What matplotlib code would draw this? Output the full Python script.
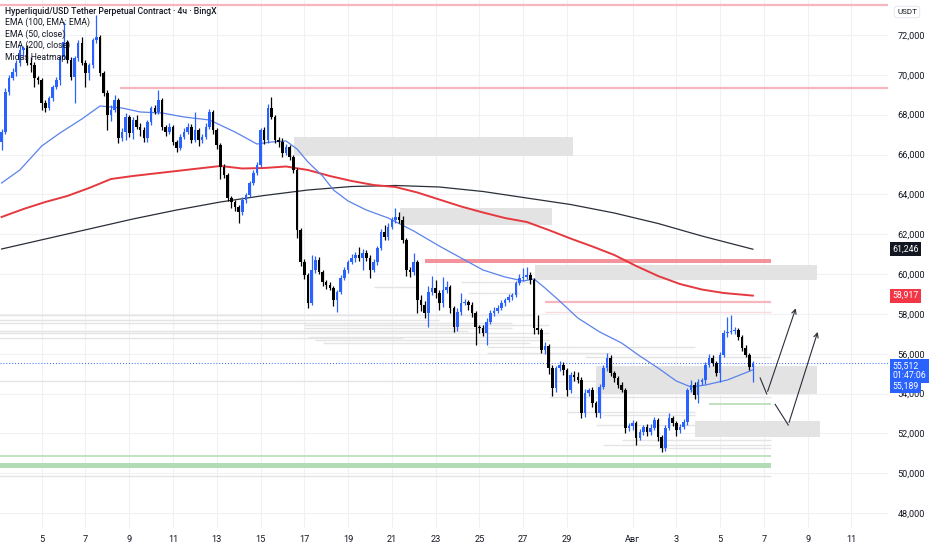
import matplotlib.pyplot as plt
import numpy as np

plt.rcParams['font.family'] = ['Roboto', 'DejaVu Sans']

# 4h candles, Jul 3 04:00 -> Aug 6 12:00 (index 0..206); open = previous close
first_open = 66630
closes = [
    67130, 69140, 69840, 70140, 70590,
    71250, 71350, 70590, 70490, 69840, 69740,
    68590, 68340, 68840, 69390, 69740, 70900,
    71650, 70750, 69890, 70850, 71600, 70590,
    70090, 70490, 71750, 71900, 70090, 69090,
    67980, 68240, 68740, 66830, 67130, 67880,
    67080, 67730, 67380, 67230, 66830, 67630,
    68340, 68140, 68740, 67380, 67130, 67380,
    66630, 66330, 66880, 67130, 67380, 66730,
    67230, 66730, 66880, 67380, 68140, 67230,
    66480, 65370, 64970, 63820, 63620, 63370,
    63110, 63720, 63970, 64570, 65070, 65470,
    67230, 66730, 68340, 67880, 66730, 66630,
    66080, 66380, 65880, 65220, 62210, 60600,
    59950, 58550, 60200, 60700, 60100, 59600,
    59450, 59300, 58700, 59100, 59800, 60200,
    60600, 60810, 60960, 60810, 61060, 60810,
    60200, 60600, 61310, 62110, 61860, 62360,
    62710, 62860, 62710, 61710, 60200, 60100,
    60600, 58700, 58450, 58040, 59100, 59300,
    59050, 58550, 59200, 59350, 58300, 57340,
    58090, 58550, 58600, 58450, 58040, 57340,
    57290, 57040, 57590, 58040, 58140, 58300,
    58550, 58700, 58850, 58950, 59550, 59800,
    59850, 59950, 59700, 57290, 57190, 56190,
    56390, 55280, 54280, 55280, 55430, 55180,
    54180, 54930, 54830, 54680, 53030, 54030,
    54180, 53530, 53030, 54330, 55280, 55790,
    55030, 54780, 54430, 54180, 52270, 52370,
    52520, 51770, 52070, 52320, 52070, 52270,
    52670, 51820, 51270, 52270, 52770, 52520,
    52170, 52320, 52570, 54180, 54430, 53930,
    54580, 54680, 55430, 55790, 55540, 55030,
    55940, 57040, 57090, 57140, 57190, 56840,
    56290, 55940, 55330, 55512,
]
wick_up = [
    150, 200, 150, 200, 150,
    250, 100, 150, 300, 150, 100,
    100, 150, 100, 100, 150, 100,
    1000, 100, 150, 100, 150, 300,
    150, 100, 100, 1100, 100, 100,
    150, 250, 250, 100, 200, 200,
    100, 150, 250, 200, 150, 100,
    100, 150, 500, 100, 100, 200,
    100, 100, 150, 200, 200, 150,
    900, 100, 150, 200, 150, 100,
    100, 100, 150, 100, 100, 100,
    100, 150, 100, 100, 150, 150,
    100, 150, 200, 550, 100, 150,
    200, 150, 100, 100, 100, 100,
    150, 100, 750, 200, 150, 100,
    100, 150, 100, 100, 150, 150,
    100, 200, 150, 400, 200, 150,
    150, 150, 100, 150, 350, 200,
    150, 450, 250, 200, 100, 150,
    450, 100, 250, 200, 300, 600,
    400, 150, 650, 300, 100, 100,
    200, 500, 150, 100, 150, 100,
    100, 150, 200, 150, 200, 150,
    150, 100, 150, 100, 100, 200,
    450, 400, 150, 100, 650, 100,
    200, 100, 150, 100, 200, 150,
    100, 150, 200, 250, 150, 200,
    100, 150, 100, 150, 150, 250,
    150, 100, 100, 150, 100, 150,
    150, 100, 150, 100, 150, 200,
    150, 100, 100, 150, 250, 100,
    100, 150, 150, 100, 250, 150,
    150, 100, 150, 200, 150, 100,
    150, 150, 750, 800, 150, 100,
    100, 150, 100, 100,
]
wick_dn = [
    400, 100, 150, 100, 200,
    150, 300, 100, 350, 450, 200,
    350, 200, 100, 150, 100, 250,
    100, 150, 150, 1300, 150, 100,
    700, 350, 150, 150, 150, 150,
    750, 300, 100, 250, 150, 400,
    200, 300, 100, 300, 200, 200,
    150, 100, 100, 150, 200, 100,
    150, 200, 100, 100, 100, 150,
    100, 300, 150, 100, 100, 200,
    200, 600, 150, 150, 300, 200,
    550, 150, 150, 100, 100, 100,
    100, 200, 150, 100, 150, 250,
    200, 100, 150, 150, 400, 200,
    200, 250, 100, 150, 100, 200,
    200, 100, 300, 600, 100, 100,
    150, 100, 200, 150, 600, 150,
    400, 100, 150, 100, 150, 150,
    100, 150, 150, 150, 300, 250,
    150, 650, 300, 250, 700, 150,
    250, 350, 200, 150, 250, 250,
    200, 150, 100, 250, 200, 900,
    250, 150, 600, 100, 150, 100,
    100, 150, 100, 150, 100, 100,
    150, 100, 200, 300, 200, 150,
    200, 300, 400, 200, 150, 250,
    300, 150, 200, 150, 250, 200,
    150, 200, 200, 250, 100, 150,
    150, 200, 150, 100, 250, 150,
    200, 350, 100, 150, 200, 150,
    100, 200, 200, 150, 100, 150,
    300, 150, 100, 150, 100, 200,
    400, 150, 200, 100, 150, 150,
    450, 100, 200, 100, 150, 150,
    150, 100, 150, 750,
]

# EMA readings (candle index, value)
ema50_idx = [0, 5, 11, 16, 22, 27, 33, 38, 44, 50, 57, 64, 70, 74, 78, 81, 84, 88, 91, 95,
             100, 106, 113, 120, 126, 132, 138, 143, 146, 149, 153, 158, 164, 170, 175, 180,
             185, 189, 193, 199, 206]
ema50_val = [64571, 65223, 66428, 67080, 67783, 68436, 68335, 68135, 68085, 67884, 67733, 67131,
             66528, 66629, 66679, 66277, 65625, 64922, 64219, 63667, 63215, 62813, 62161, 61408,
             60805, 60203, 59852, 59651, 59751, 59299, 58647, 57794, 57091, 56538, 55885, 55283,
             54631, 54330, 54430, 54681, 55189]
ema100_idx = [0, 6, 12, 18, 24, 30, 36, 42, 48, 54, 60, 66, 72, 78, 84, 90, 96, 102, 108, 114,
              120, 126, 132, 138, 144, 150, 156, 162, 168, 174, 180, 186, 192, 198, 206]
ema100_val = [62864, 63265, 63617, 63918, 64320, 64771, 64922, 65048, 65173, 65299, 65424, 65299,
              65324, 65399, 65223, 64922, 64671, 64470, 64370, 64094, 63742, 63391, 63090, 62813,
              62613, 62211, 61784, 61383, 60956, 60404, 59902, 59500, 59224, 59048, 58917]
ema200_idx = [0, 12, 24, 36, 48, 60, 72, 84, 96, 108, 120, 132, 144, 156, 168, 180, 192, 206]
ema200_val = [61257, 61759, 62261, 62763, 63215, 63617, 63943, 64219, 64395, 64445, 64370, 64144,
              63817, 63491, 63064, 62538, 61910, 61246]

# zones: (start idx, end idx, low, high)
gray_zones = [(80.2, 156.7, 65925, 66880), (109.3, 150.9, 62460, 63315),
              (146.3, 223.6, 59700, 60455), (163.0, 223.6, 53980, 55385),
              (190.1, 224.4, 51820, 52620)]
red_zone = (116.1, 211.0, 60530, 60755)
green_zone = (-1, 211.0, 50250, 50500)
# levels: (price, start idx, end idx)
pink_levels = [(73506, -1, 244), (69340, 32.5, 244), (58610, 149.0, 211.0)]
faint_pink_levels = [(58110, 149.0, 211.0)]
green_levels = [(53475, 194.0, 211.0), (50880, -1, 211.0)]
heat_levels = [(57944, -1, 146), (57693, -1, 120), (57557, -1, 140), (57156, -1, 128),
               (57041, -1, 150), (56790, -1, 110), (54631, -1, 211), (49877, -1, 211),
               (57443, 83, 150), (57292, 83, 140), (56855, 84, 148), (56689, 86, 150),
               (56553, 88, 145), (59350, 102, 114), (59600, 126, 146), (59048, 128, 142),
               (56352, 133, 190), (56020, 133, 167), (55850, 160, 211), (53842, 150, 211),
               (53090, 155, 190), (52924, 165, 190), (52422, 163, 211), (51669, 170, 211),
               (51418, 165, 211), (51268, 180, 211)]

# hand-drawn projection paths
path1_idx = [208.0, 209.8, 218.0]
path1_val = [54781, 53978, 58411]
path2_idx = [212.1, 215.7, 224.0]
path2_val = [53461, 52422, 57226]

day_ticks = [11, 23, 35, 47, 59, 71, 83, 95, 107, 119, 131, 143, 155, 173, 185, 197, 209, 221, 233]
day_labels = ['5', '7', '9', '11', '13', '15', '17', '19', '21', '23', '25', '27', '29',
              'Авг', '3', '5', '7', '9', '11']
price_ticks = list(range(48000, 72001, 2000))

last_price = 55512
ema50_last, ema100_last, ema200_last = 55189, 58917, 61246

fig = plt.figure(figsize=(9.32, 5.5), dpi=100)
ax = fig.add_axes([0, 22 / 550, 888 / 932, 528 / 550])
ax.set_xlim(-0.44, 243.05)
ax.set_ylim(47251, 73757)
for s in ax.spines.values():
    s.set_visible(False)

ax.set_xticks(day_ticks)
ax.set_xticklabels(day_labels)
ax.yaxis.tick_right()
ax.set_yticks(price_ticks)
ax.set_yticklabels([f'{p:,}' for p in price_ticks])
ax.tick_params(axis='x', length=0, pad=5, labelsize=6.6, labelcolor='#131722')
ax.tick_params(axis='y', length=0, pad=7, labelsize=6.6, labelcolor='#131722')
ax.grid(True, color='#f0f1f5', lw=0.8, zorder=0)
ax.set_axisbelow(True)

for x0, x1, lo, hi in gray_zones:
    ax.fill_between([x0, x1], lo, hi, color='#e3e3e3', lw=0, zorder=1)
ax.fill_between([red_zone[0], red_zone[1]], red_zone[2], red_zone[3], color='#f3939c', lw=0, zorder=1)
ax.fill_between([green_zone[0], green_zone[1]], green_zone[2], green_zone[3], color='#b3dbb5', lw=0, zorder=1)
for p, x0, x1 in heat_levels:
    ax.hlines(p, x0, x1, color='#e4e4e4', lw=1.0, zorder=1)
for p, x0, x1 in pink_levels:
    ax.hlines(p, x0, x1, color='#f6b6be', lw=1.6, zorder=2)
for p, x0, x1 in faint_pink_levels:
    ax.hlines(p, x0, x1, color='#f9dadd', lw=1.0, zorder=2)
for p, x0, x1 in green_levels:
    ax.hlines(p, x0, x1, color='#bfe2c0', lw=1.4, zorder=2)

ax.axhline(last_price, color='#2962ff', lw=0.7, ls=(0, (1, 2)), zorder=2)

ax.plot(ema200_idx, ema200_val, color='#2a2e39', lw=0.9, zorder=3)
ax.plot(ema100_idx, ema100_val, color='#e5393f', lw=1.4, zorder=3)
ax.plot(ema50_idx, ema50_val, color='#5a82ea', lw=0.9, zorder=3)

c = np.array(closes, dtype=float)
o = np.concatenate([[first_open], c[:-1]])
hi = np.maximum(o, c) + np.array(wick_up)
lo = np.minimum(o, c) - np.array(wick_dn)
idx = np.arange(len(c))
col = np.where(c >= o, '#2962ff', '#000000')
ax.vlines(idx, lo, hi, colors=col, lw=0.9, zorder=4)
ax.bar(idx, np.maximum(np.abs(c - o), 45), bottom=np.minimum(o, c), width=0.7,
       color=col, lw=0, zorder=5)

ax.plot(path1_idx[:2], path1_val[:2], color='#2a2e39', lw=0.8, zorder=6)
ax.annotate('', xy=(path1_idx[2], path1_val[2]), xytext=(path1_idx[1], path1_val[1]),
            arrowprops=dict(arrowstyle='->', color='#2a2e39', lw=0.8, mutation_scale=8), zorder=6)
ax.plot(path2_idx[:2], path2_val[:2], color='#2a2e39', lw=0.8, zorder=6)
ax.annotate('', xy=(path2_idx[2], path2_val[2]), xytext=(path2_idx[1], path2_val[1]),
            arrowprops=dict(arrowstyle='->', color='#2a2e39', lw=0.8, mutation_scale=8), zorder=6)

# legend block
legend_lines = ['Hyperliquid/USD Tether Perpetual Contract · 4ч · BingX', 'EMA (100, EMA: EMA)',
                'EMA (50, close)', 'EMA (200, close)', 'Midas Heatmap']
for k, (txt, ypx) in enumerate(zip(legend_lines, [11, 22.7, 34, 45.7, 57.3])):
    fig.text(5 / 932, 1 - ypx / 550, txt, fontsize=6.2, color='#131722', va='center', ha='left',
             fontweight='medium' if k == 0 else 'normal', zorder=10)

# price scale tags
tr = ax.get_yaxis_transform()
ax.text(1.005, ema200_last, f'{ema200_last:,}', transform=tr, fontsize=6.3, color='white',
        va='center', ha='left', clip_on=False,
        bbox=dict(boxstyle='square,pad=0.28', fc='#131722', ec='none'))
ax.text(1.005, ema100_last, f'{ema100_last:,}', transform=tr, fontsize=6.3, color='white',
        va='center', ha='left', clip_on=False,
        bbox=dict(boxstyle='square,pad=0.28', fc='#f23645', ec='none'))
ax.text(1.005, 55133, f'{last_price:,}\n01:47:06', transform=tr, fontsize=6.3, color='white',
        va='center', ha='left', clip_on=False, linespacing=1.05,
        bbox=dict(boxstyle='square,pad=0.28', fc='#2962ff', ec='none'))
ax.text(1.005, 54355, f'{ema50_last:,}', transform=tr, fontsize=6.3, color='white',
        va='center', ha='left', clip_on=False,
        bbox=dict(boxstyle='square,pad=0.28', fc='#2962ff', ec='none'))
fig.text(907 / 932, 1 - 12 / 550, 'USDT', fontsize=5.8, color='#131722', ha='center', va='center',
         bbox=dict(boxstyle='round,pad=0.35', fc='white', ec='#e0e3eb', lw=0.6))

fig.savefig('out.png', dpi=100)
